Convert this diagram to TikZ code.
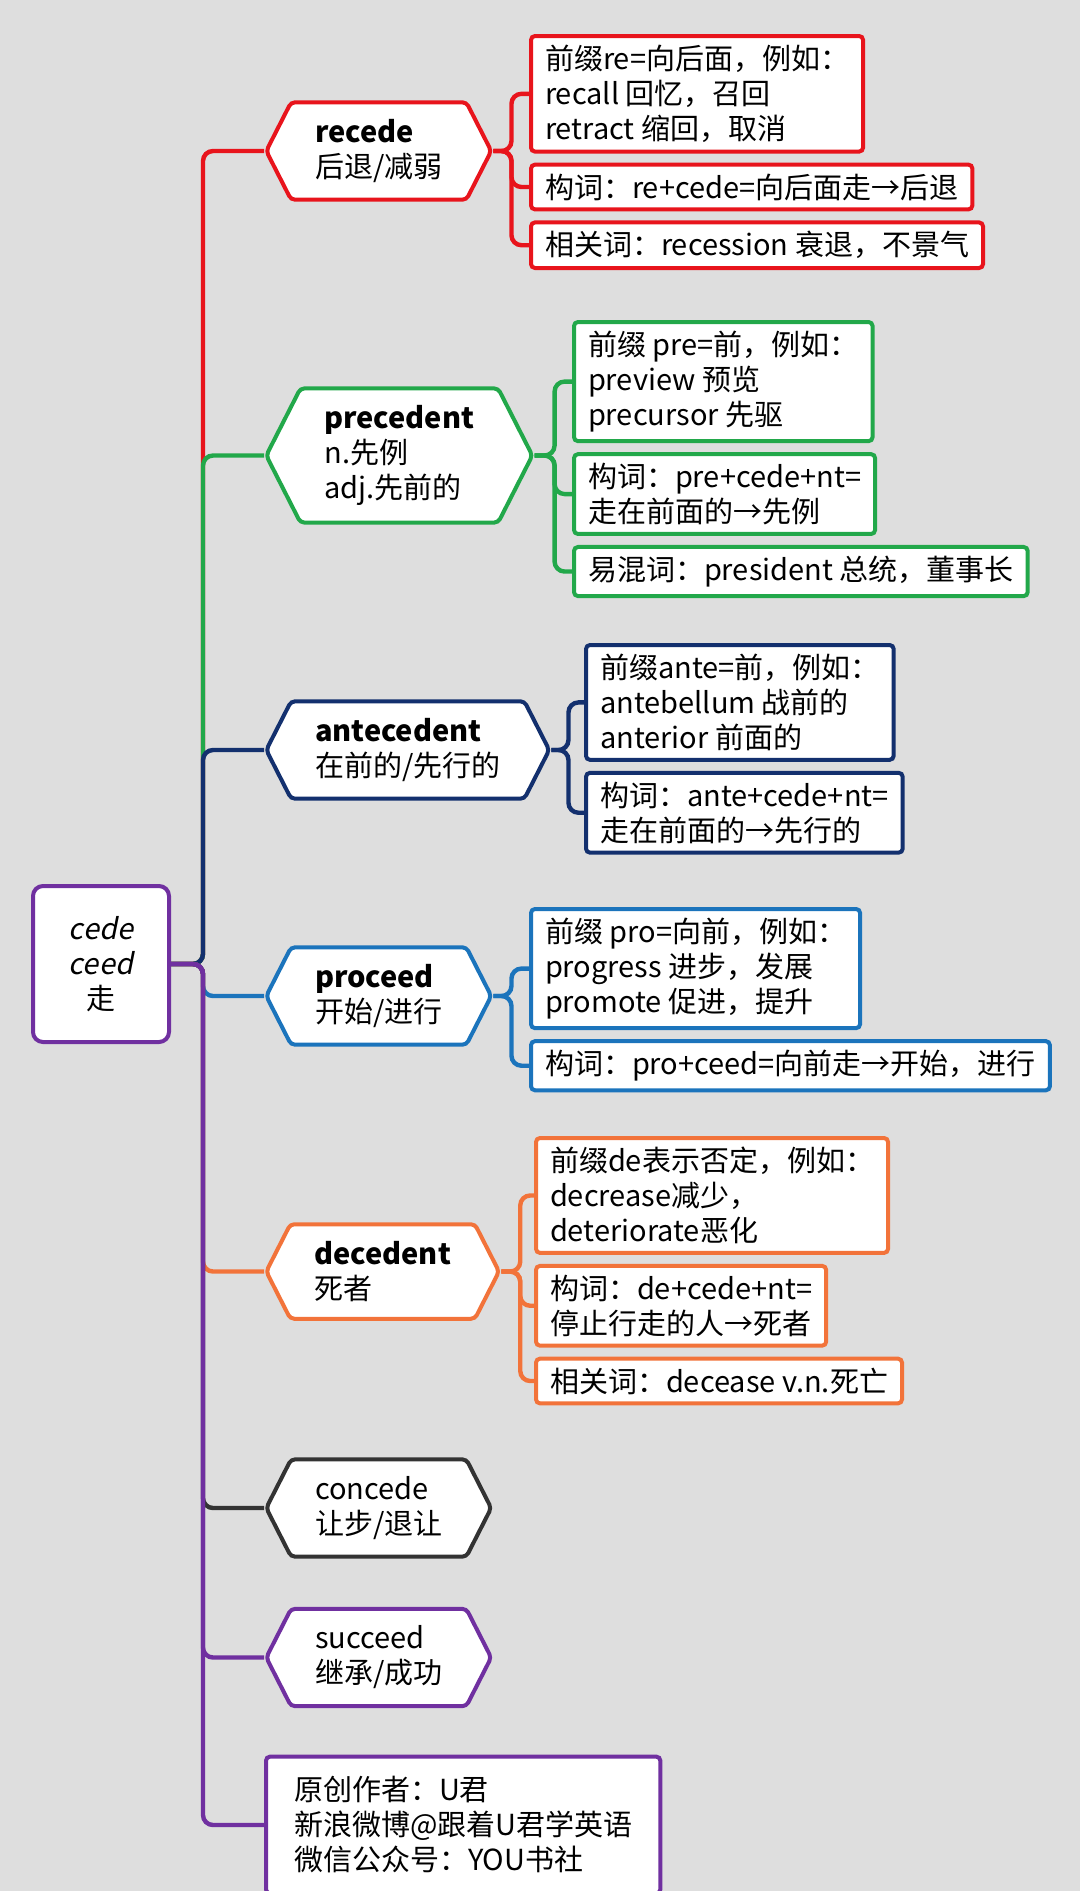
\documentclass[tikz,border=0pt]{standalone}
\usepackage{fontspec}
\setmainfont{Noto Sans CJK SC}
\newfontfamily\slantfont{Noto Sans CJK SC}[FakeSlant=0.2]
\usetikzlibrary{positioning,shapes.symbols}
\definecolor{cedered}{HTML}{E8141C}
\definecolor{cedegreen}{HTML}{22A84A}
\definecolor{cedenavy}{HTML}{13306E}
\definecolor{cedeblue}{HTML}{1B74BC}
\definecolor{cedeorange}{HTML}{F2733A}
\definecolor{cedegray}{HTML}{333333}
\definecolor{cedepurple}{HTML}{7030A0}
\definecolor{cedepaper}{HTML}{DEDEDE}

\begin{document}
\begin{tikzpicture}[x=0.5pt,y=-0.5pt,node distance=4.5pt,
 every node/.style={font=\fontsize{14.5}{17.5}\selectfont},
 hexa/.style={signal,signal to=east and west,signal pointer angle=126,draw=#1,fill=white,line width=2pt,rounded corners=2pt,align=left,inner xsep=12pt,inner ysep=8.5pt,minimum width=112pt,anchor=west},
 sub/.style={draw=#1,fill=white,line width=2pt,rounded corners=2pt,align=left,inner xsep=7pt,inner ysep=4.5pt},
 lnk/.style={draw=#1,line width=2.2pt,rounded corners=5pt}]
\fill[cedepaper] (0,0) rectangle (1080,1891);
\useasboundingbox (0,0) rectangle (1080,1891);
\coordinate (trunk) at (203,964);
% root word
\node[draw=cedepurple,fill=white,line width=2pt,rounded corners=5pt,minimum width=68pt,minimum height=78pt,align=center] (root) at (101,964) {{\slantfont cede}\\{\slantfont ceed}\\走};
% words
\node[hexa=cedered] (recede) at (264,151) {\textbf{recede}\\后退/减弱};
\node[hexa=cedegreen] (precedent) at (264,455.5) {\textbf{precedent}\\n.先例\\adj.先前的};
\node[hexa=cedenavy] (antecedent) at (264,750) {\textbf{antecedent}\\在前的/先行的};
\node[hexa=cedeblue] (proceed) at (264,996) {\textbf{proceed}\\开始/进行};
\node[hexa=cedeorange] (decedent) at (264,1271.5) {\textbf{decedent}\\死者};
\node[hexa=cedegray] (concede) at (264,1508) {concede\\让步/退让};
\node[hexa=cedepurple] (succeed) at (264,1657.5) {succeed\\继承/成功};
\node[sub=cedepurple,inner xsep=14pt,inner ysep=10pt,anchor=west] (credit) at (264,1825) {原创作者：U君\\新浪微博@跟着U君学英语\\微信公众号：YOU书社};
% notes
\node[sub=cedered,anchor=north west] (reParts) at (529,34) {前缀re=向后面，例如：\\recall 回忆，召回\\retract 缩回，取消};
\node[sub=cedered,below=of reParts.south west,anchor=north west] (reBuild) {构词：re+cede=向后面走→后退};
\node[sub=cedered,below=of reBuild.south west,anchor=north west] (reRel) {相关词：recession 衰退，不景气};
\node[sub=cedegreen,anchor=north west] (preParts) at (572,320) {前缀 pre=前，例如：\\preview 预览\\precursor 先驱};
\node[sub=cedegreen,below=of preParts.south west,anchor=north west] (preBuild) {构词：pre+cede+nt=\\走在前面的→先例};
\node[sub=cedegreen,below=of preBuild.south west,anchor=north west] (preMix) {易混词：president 总统，董事长};
\node[sub=cedenavy,anchor=north west] (anteParts) at (584,643) {前缀ante=前，例如：\\antebellum 战前的\\anterior 前面的};
\node[sub=cedenavy,below=of anteParts.south west,anchor=north west] (anteBuild) {构词：ante+cede+nt=\\走在前面的→先行的};
\node[sub=cedeblue,anchor=north west] (proParts) at (529,907) {前缀 pro=向前，例如：\\progress 进步，发展\\promote 促进，提升};
\node[sub=cedeblue,below=of proParts.south west,anchor=north west] (proBuild) {构词：pro+ceed=向前走→开始，进行};
\node[sub=cedeorange,anchor=north west] (deParts) at (534,1136) {前缀de表示否定，例如：\\decrease减少，\\deteriorate恶化};
\node[sub=cedeorange,below=of deParts.south west,anchor=north west] (deBuild) {构词：de+cede+nt=\\停止行走的人→死者};
\node[sub=cedeorange,below=of deBuild.south west,anchor=north west] (deRel) {相关词：decease v.n.死亡};
% connectors
\foreach \w/\c in {recede/cedered,precedent/cedegreen,antecedent/cedenavy,proceed/cedeblue,decedent/cedeorange,concede/cedegray,succeed/cedepurple,credit/cedepurple}
  \draw[lnk=\c] (root.east) -- (trunk) |- (\w.west);
\foreach \n in {reParts,reBuild,reRel} \draw[lnk=cedered] (recede.east) -- ++(18,0) |- (\n.west);
\foreach \n in {preParts,preBuild,preMix} \draw[lnk=cedegreen] (precedent.east) -- ++(20,0) |- (\n.west);
\foreach \n in {anteParts,anteBuild} \draw[lnk=cedenavy] (antecedent.east) -- ++(17,0) |- (\n.west);
\foreach \n in {proParts,proBuild} \draw[lnk=cedeblue] (proceed.east) -- ++(18,0) |- (\n.west);
\foreach \n in {deParts,deBuild,deRel} \draw[lnk=cedeorange] (decedent.east) -- ++(19,0) |- (\n.west);
\end{tikzpicture}
\end{document}
